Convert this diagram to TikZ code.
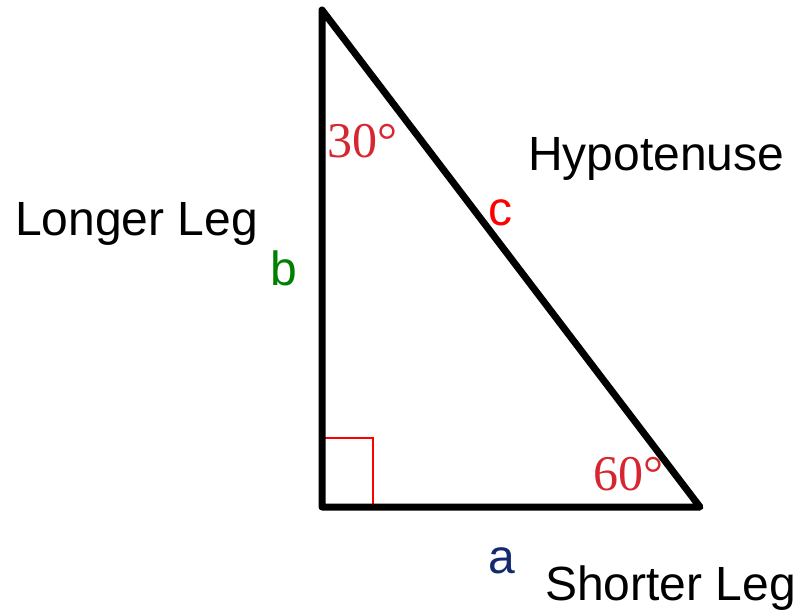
\documentclass[tikz,border=0pt]{standalone}
\usepackage{fontspec}
\setmainfont{Liberation Sans}
\newfontfamily\degfont{Liberation Serif}
\definecolor{degred}{RGB}{214,38,48}
\definecolor{agreen}{RGB}{0,128,0}
\definecolor{anavy}{RGB}{20,42,110}
\begin{document}
\begin{tikzpicture}[x=1pt,y=-1pt,
  lbl/.style={inner sep=0pt,anchor=base west,font=\fontsize{48}{56}\selectfont},
  deg/.style={inner sep=0pt,anchor=base west,text=degred,font=\fontsize{50}{58}\degfont},
  side/.style={line width=7pt,line join=round,line cap=round}]
\useasboundingbox (0,0) rectangle (798,610);
\coordinate (A) at (322,10);
\coordinate (B) at (322,507);
\coordinate (C) at (700,507);
\coordinate (S1) at (322,438);
\coordinate (S2) at (373,438);
\coordinate (S3) at (373,507);
\draw[red,line width=2pt] (S1) -- (S2) -- (S3);
\draw[side] (A) -- (B) -- (C) -- cycle;
\node[deg] (d30) at (327,157) {30°};
\node[deg] (d60) at (593,490) {60°};
\node[lbl] (hyp) at (528,170) {Hypotenuse};
\node[lbl,text=red] (c) at (488,225) {c};
\node[lbl] (ll) at (15,235) {Longer Leg};
\node[lbl,text=agreen] (b) at (270,285) {b};
\node[lbl,text=anavy] (a) at (488,573) {a};
\node[lbl] (sl) at (545,600) {Shorter Leg};
\end{tikzpicture}
\end{document}
